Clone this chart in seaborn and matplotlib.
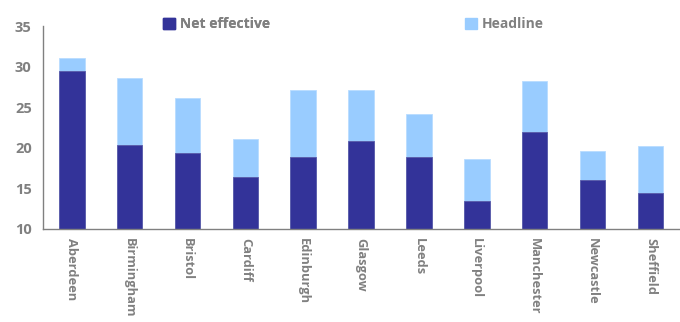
import matplotlib
matplotlib.use("Agg")
import matplotlib.pyplot as plt
import seaborn as sns
import numpy as np
from matplotlib.patches import Patch

cities = ["Aberdeen", "Birmingham", "Bristol", "Cardiff", "Edinburgh", "Glasgow",
          "Leeds", "Liverpool", "Manchester", "Newcastle", "Sheffield"]
net_effective = [29.4, 20.3, 19.3, 16.4, 18.9, 20.8, 18.9, 13.4, 21.9, 16.0, 14.4]
headline = [31.1, 28.6, 26.1, 21.1, 27.1, 27.1, 24.2, 18.6, 28.2, 19.6, 20.2]
yticks = [10, 15, 20, 25, 30, 35]

NET_C = "#333399"
HEAD_C = "#99ccff"
GREY = "#808080"

sns.set_style("white")
plt.rcParams['font.family'] = ['Open Sans', 'DejaVu Sans']
plt.rcParams['font.weight'] = 'bold'

fig = plt.figure(figsize=(6.8, 3.22), dpi=100)
ax = fig.add_axes([0.063, 0.29, 0.936, 0.629])

sns.barplot(x=cities, y=headline, color=HEAD_C, width=0.44, ax=ax, saturation=1,
            edgecolor="#b8dcff", linewidth=0.6)
sns.barplot(x=cities, y=net_effective, color=NET_C, width=0.44, ax=ax, saturation=1,
            edgecolor="#5a5aa8", linewidth=0.6)

ax.set_ylim(10, 35)
ax.set_xlim(-0.5, len(cities) - 0.5)
ax.set_yticks(yticks)
ax.set_yticklabels([str(t) for t in yticks], fontsize=10.5, color=GREY, fontweight='bold')

ax.set_xticks(np.arange(len(cities)))
ax.set_xticklabels(cities, rotation=270, fontsize=9.3, color=GREY, fontweight='bold')
ax.tick_params(axis='x', which='major', length=0, pad=7)
ax.set_xticks(np.arange(-0.5, len(cities), 1.0), minor=True)
ax.tick_params(axis='x', which='minor', length=5, width=1, color=GREY, direction='out')
ax.tick_params(axis='y', length=5, width=1, color=GREY, direction='out', pad=3)

for s in ["top", "right"]:
    ax.spines[s].set_visible(False)
for s in ["left", "bottom"]:
    ax.spines[s].set_color(GREY)
    ax.spines[s].set_linewidth(1)

leg1 = fig.legend(handles=[Patch(facecolor=NET_C, edgecolor=NET_C)], labels=["Net effective"],
                  loc="center left", bbox_to_anchor=(0.221, 0.925), frameon=False,
                  handlelength=0.9, handleheight=0.9, handletextpad=0.35,
                  prop={'size': 10, 'weight': 'bold'})
for t in leg1.get_texts():
    t.set_color(GREY)
leg2 = fig.legend(handles=[Patch(facecolor=HEAD_C, edgecolor=HEAD_C)], labels=["Headline"],
                  loc="center left", bbox_to_anchor=(0.665, 0.925), frameon=False,
                  handlelength=0.9, handleheight=0.9, handletextpad=0.35,
                  prop={'size': 10, 'weight': 'bold'})
for t in leg2.get_texts():
    t.set_color(GREY)
fig.add_artist(leg1)

fig.savefig("out.png", dpi=100)
